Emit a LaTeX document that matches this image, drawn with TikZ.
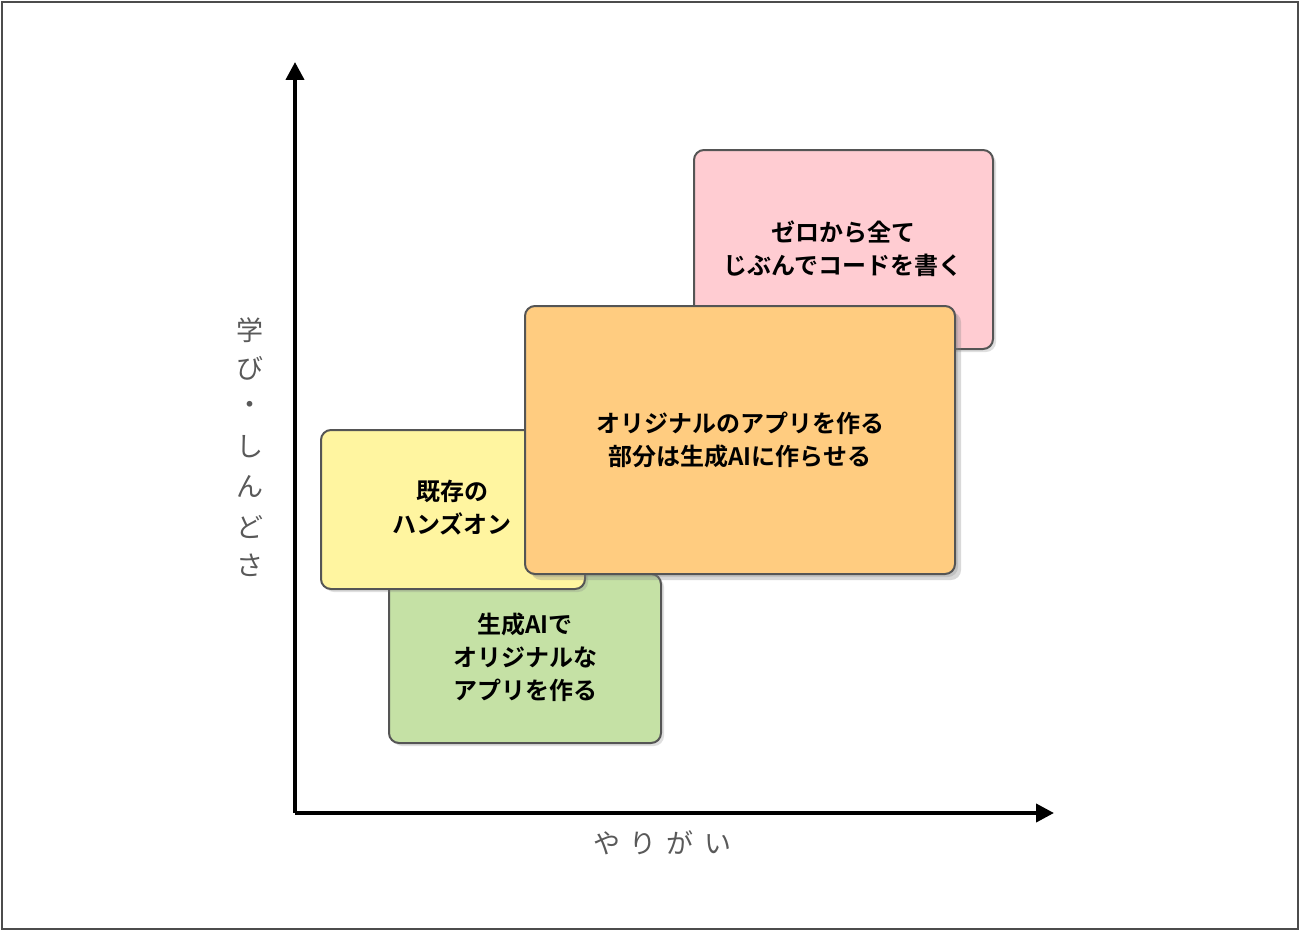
\documentclass[tikz,border=0pt]{standalone}
\usepackage{fontspec}
\newfontfamily\jp{Noto Sans CJK JP}
\newfontfamily\jpb{Noto Sans CJK JP Bold}
\usetikzlibrary{shadows,arrows.meta}
\definecolor{pinkf}{RGB}{255,204,210}
\definecolor{yellowf}{RGB}{255,245,160}
\definecolor{greenf}{RGB}{197,225,165}
\definecolor{orangef}{RGB}{255,204,128}
\definecolor{edge}{RGB}{85,85,85}
\tikzset{box/.style={draw=edge,line width=1pt,rounded corners=5pt,drop shadow={shadow xshift=1.5pt,shadow yshift=-1.5pt,opacity=0.25}},
lab/.style={font=\jpb\fontsize{12}{16.5}\selectfont,align=center,text=black},
axl/.style={font=\jp\fontsize{13.5}{14}\selectfont,text=black!65}}
\begin{document}
\begin{tikzpicture}[x=0.5pt,y=-0.5pt]
\draw[black!70,line width=1pt] (2,2) rectangle (1298,929);
\useasboundingbox (0,0) rectangle (1300,931);
\coordinate (o) at (295,813);
\coordinate (ytop) at (295,62);
\coordinate (xend) at (1054,813);
\draw[line width=2pt,-{Triangle[length=9pt,width=9pt]}] (o) -- (ytop);
\draw[line width=2pt,-{Triangle[length=9pt,width=9pt]}] (o) -- (xend);
\foreach \c/\y [count=\i] in {学/330,び/368,・/408,し/447,ん/487,ど/527,さ/565}
  \node[axl] (y\i) at (250,\y) {\c};
\node[axl] (xl) at (662,843) {や\hspace{5pt}り\hspace{5pt}が\hspace{5pt}い};
\filldraw[box,fill=pinkf] (694,150) rectangle (993,349);
\node[lab] (p) at (843,249) {ゼロから全て\\じぶんでコードを書く};
\filldraw[box,fill=greenf] (389,574) rectangle (661,743);
\node[lab] (g) at (525,657) {生成AIで\\オリジナルな\\アプリを作る};
\filldraw[box,fill=yellowf] (321,430) rectangle (585,589);
\node[lab] (yb) at (452,508) {既存の\\ハンズオン};
\filldraw[box,fill=orangef,drop shadow={shadow xshift=3pt,shadow yshift=-3pt,opacity=0.3}] (525,306) rectangle (955,574);
\node[lab] (ob) at (740,440) {オリジナルのアプリを作る\\部分は生成AIに作らせる};
\end{tikzpicture}
\end{document}
